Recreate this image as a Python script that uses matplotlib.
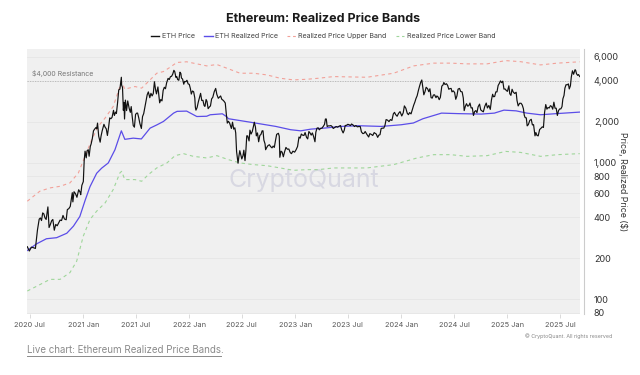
import matplotlib
matplotlib.use("Agg")
import matplotlib.pyplot as plt
from matplotlib.lines import Line2D
from matplotlib.ticker import FixedLocator, NullLocator
import pandas as pd

plt.rcParams['font.family'] = ['Inter', 'DejaVu Sans']

# ---------------- data ----------------
price_dates = [
"2020-06-22","2020-06-29","2020-07-06","2020-07-13","2020-07-20","2020-07-24","2020-07-27","2020-08-02","2020-08-06","2020-08-10",
"2020-08-14","2020-08-18","2020-08-22","2020-08-26","2020-09-01","2020-09-05","2020-09-09","2020-09-14","2020-09-18","2020-09-23",
"2020-09-28","2020-10-03","2020-10-09","2020-10-13","2020-10-18","2020-10-23","2020-10-28","2020-11-03","2020-11-07","2020-11-12",
"2020-11-17","2020-11-21","2020-11-24","2020-11-26","2020-11-30","2020-12-05","2020-12-10","2020-12-16","2020-12-21","2020-12-23",
"2020-12-27","2021-01-01","2021-01-04","2021-01-07","2021-01-11","2021-01-14","2021-01-18","2021-01-21","2021-01-25","2021-01-28",
"2021-02-01","2021-02-05","2021-02-09","2021-02-13","2021-02-16","2021-02-19","2021-02-23","2021-02-28","2021-03-03","2021-03-07",
"2021-03-13","2021-03-17","2021-03-21","2021-03-25","2021-03-29","2021-04-02","2021-04-06","2021-04-10","2021-04-15","2021-04-18",
"2021-04-22","2021-04-25","2021-04-29","2021-05-03","2021-05-07","2021-05-10","2021-05-12","2021-05-13","2021-05-16","2021-05-19",
"2021-05-21","2021-05-23","2021-05-26","2021-05-30","2021-06-03","2021-06-08","2021-06-12","2021-06-15","2021-06-18","2021-06-22",
"2021-06-26","2021-06-30","2021-07-04","2021-07-07","2021-07-11","2021-07-15","2021-07-20","2021-07-24","2021-07-28","2021-08-01",
"2021-08-05","2021-08-09","2021-08-13","2021-08-18","2021-08-22","2021-08-26","2021-08-30","2021-09-03","2021-09-07","2021-09-10",
"2021-09-15","2021-09-21","2021-09-25","2021-09-29","2021-10-03","2021-10-07","2021-10-11","2021-10-15","2021-10-20","2021-10-24",
"2021-10-28","2021-11-01","2021-11-05","2021-11-09","2021-11-12","2021-11-16","2021-11-19","2021-11-22","2021-11-26","2021-11-30",
"2021-12-03","2021-12-05","2021-12-09","2021-12-13","2021-12-16","2021-12-20","2021-12-24","2021-12-28","2022-01-01","2022-01-05",
"2022-01-08","2022-01-12","2022-01-16","2022-01-20","2022-01-22","2022-01-24","2022-01-28","2022-02-01","2022-02-05","2022-02-09",
"2022-02-13","2022-02-17","2022-02-21","2022-02-24","2022-02-28","2022-03-03","2022-03-07","2022-03-11","2022-03-15","2022-03-19",
"2022-03-23","2022-03-28","2022-04-02","2022-04-06","2022-04-11","2022-04-15","2022-04-19","2022-04-23","2022-04-27","2022-05-01",
"2022-05-05","2022-05-09","2022-05-12","2022-05-16","2022-05-20","2022-05-26","2022-05-30","2022-06-03","2022-06-07","2022-06-10",
"2022-06-13","2022-06-16","2022-06-18","2022-06-21","2022-06-24","2022-06-28","2022-07-01","2022-07-05","2022-07-08","2022-07-12",
"2022-07-15","2022-07-18","2022-07-21","2022-07-26","2022-07-29","2022-08-02","2022-08-06","2022-08-10","2022-08-13","2022-08-17",
"2022-08-20","2022-08-24","2022-08-28","2022-09-01","2022-09-05","2022-09-09","2022-09-12","2022-09-15","2022-09-19","2022-09-21",
"2022-09-25","2022-09-29","2022-10-04","2022-10-08","2022-10-13","2022-10-17","2022-10-21","2022-10-25","2022-10-29","2022-11-04",
"2022-11-07","2022-11-09","2022-11-13","2022-11-17","2022-11-21","2022-11-25","2022-11-30","2022-12-05","2022-12-10","2022-12-15",
"2022-12-19","2022-12-24","2022-12-30","2023-01-04","2023-01-09","2023-01-14","2023-01-18","2023-01-22","2023-01-26","2023-01-31",
"2023-02-04","2023-02-09","2023-02-13","2023-02-17","2023-02-21","2023-02-25","2023-03-01","2023-03-05","2023-03-10","2023-03-13",
"2023-03-17","2023-03-21","2023-03-25","2023-03-29","2023-04-03","2023-04-08","2023-04-12","2023-04-15","2023-04-18","2023-04-21",
"2023-04-25","2023-04-30","2023-05-04","2023-05-08","2023-05-12","2023-05-17","2023-05-22","2023-05-27","2023-06-01","2023-06-06",
"2023-06-10","2023-06-15","2023-06-19","2023-06-22","2023-06-27","2023-07-01","2023-07-05","2023-07-10","2023-07-14","2023-07-19",
"2023-07-24","2023-07-29","2023-08-03","2023-08-08","2023-08-13","2023-08-17","2023-08-22","2023-08-26","2023-08-30","2023-09-04",
"2023-09-11","2023-09-15","2023-09-20","2023-09-25","2023-09-30","2023-10-03","2023-10-07","2023-10-12","2023-10-16","2023-10-20",
"2023-10-24","2023-10-29","2023-11-02","2023-11-06","2023-11-10","2023-11-15","2023-11-20","2023-11-25","2023-11-30","2023-12-05",
"2023-12-09","2023-12-13","2023-12-18","2023-12-23","2023-12-28","2024-01-03","2024-01-08","2024-01-12","2024-01-17","2024-01-22",
"2024-01-26","2024-01-30","2024-02-04","2024-02-09","2024-02-13","2024-02-17","2024-02-21","2024-02-25","2024-02-29","2024-03-04",
"2024-03-08","2024-03-12","2024-03-16","2024-03-19","2024-03-23","2024-03-27","2024-04-01","2024-04-05","2024-04-09","2024-04-13",
"2024-04-17","2024-04-21","2024-04-25","2024-04-30","2024-05-03","2024-05-07","2024-05-11","2024-05-15","2024-05-20","2024-05-24",
"2024-05-27","2024-05-31","2024-06-05","2024-06-09","2024-06-13","2024-06-17","2024-06-21","2024-06-24","2024-06-28","2024-07-03",
"2024-07-07","2024-07-11","2024-07-15","2024-07-20","2024-07-24","2024-07-29","2024-08-02","2024-08-05","2024-08-09","2024-08-13",
"2024-08-17","2024-08-21","2024-08-25","2024-08-29","2024-09-02","2024-09-06","2024-09-10","2024-09-14","2024-09-18","2024-09-22",
"2024-09-27","2024-10-01","2024-10-05","2024-10-10","2024-10-15","2024-10-20","2024-10-24","2024-10-29","2024-11-03","2024-11-07",
"2024-11-11","2024-11-14","2024-11-18","2024-11-22","2024-11-26","2024-11-30","2024-12-04","2024-12-08","2024-12-12","2024-12-16",
"2024-12-20","2024-12-24","2024-12-28","2025-01-01","2025-01-06","2025-01-09","2025-01-13","2025-01-17","2025-01-21","2025-01-26",
"2025-01-31","2025-02-03","2025-02-07","2025-02-12","2025-02-17","2025-02-21","2025-02-25","2025-02-28","2025-03-03","2025-03-07",
"2025-03-10","2025-03-14","2025-03-19","2025-03-24","2025-03-28","2025-04-01","2025-04-06","2025-04-09","2025-04-13","2025-04-17",
"2025-04-22","2025-04-26","2025-05-01","2025-05-05","2025-05-09","2025-05-13","2025-05-17","2025-05-21","2025-05-25","2025-05-29",
"2025-06-02","2025-06-06","2025-06-10","2025-06-14","2025-06-18","2025-06-22","2025-06-26","2025-06-30","2025-07-04","2025-07-08",
"2025-07-11","2025-07-15","2025-07-18","2025-07-22","2025-07-26","2025-07-30","2025-08-02","2025-08-06","2025-08-09","2025-08-13",
"2025-08-17","2025-08-22","2025-08-24","2025-08-27","2025-08-31","2025-09-03","2025-09-07",
]
eth_price = [
243,226,241,239,236,280,322,387,395,378,
430,423,395,385,476,336,352,377,385,321,
354,346,366,381,378,412,388,383,455,462,
480,550,605,518,615,595,560,636,610,585,
685,730,1040,1220,1090,1230,1250,1120,1320,1380,
1510,1720,1770,1815,1780,1960,1570,1420,1570,1720,
1920,1830,1780,1590,1820,2140,2110,2160,2430,2230,
2360,2310,2760,3430,3480,3920,4250,3720,3580,2430,
2780,2100,2890,2420,2850,2510,2350,2590,2230,1880,
1830,2270,2320,2320,2140,1940,1790,2190,2300,2560,
2820,3160,3320,3010,3240,3100,3230,3940,3430,3210,
3610,2760,2920,2850,3400,3590,3500,3870,4170,4090,
4290,4320,4480,4780,4670,4240,4300,4090,4040,4630,
4530,4200,4120,3780,3960,3940,4040,3800,3770,3500,
3200,3370,3330,3000,2560,2440,2550,2790,3010,3240,
2870,2880,2640,2600,2920,2830,2500,2570,2620,2950,
3030,3330,3520,3180,2980,3040,3100,2930,2890,2830,
2750,2240,1960,2020,1960,1790,1990,1770,1810,1660,
1210,1070,995,1120,1230,1140,1070,1130,1240,1040,
1230,1580,1580,1450,1740,1630,1700,1850,1990,1830,
1580,1660,1430,1590,1620,1720,1720,1470,1380,1250,
1300,1340,1360,1320,1290,1330,1300,1460,1620,1650,
1570,1100,1220,1200,1110,1200,1300,1260,1265,1190,
1170,1220,1200,1250,1320,1550,1520,1630,1600,1590,
1670,1540,1500,1700,1660,1600,1660,1570,1430,1680,
1800,1810,1750,1790,1800,1860,1920,2100,2100,1850,
1870,1870,1880,1850,1790,1820,1850,1830,1860,1880,
1750,1660,1740,1880,1890,1920,1910,1880,1930,1900,
1850,1880,1840,1850,1850,1690,1640,1650,1700,1630,
1550,1640,1620,1590,1670,1650,1630,1540,1600,1610,
1790,1800,1800,1880,2080,2060,2010,2080,2050,2290,
2350,2260,2200,2310,2380,2210,2330,2620,2520,2310,
2260,2340,2290,2490,2650,2790,2970,3110,3380,3640,
3890,4060,3520,3160,3330,3590,3500,3330,3500,3010,
2990,3150,3160,3010,3100,3050,2910,3030,3660,3730,
3890,3760,3810,3700,3470,3510,3520,3320,3380,3290,
2930,3100,3480,3520,3340,3320,2990,2420,2600,2720,
2610,2630,2750,2530,2540,2230,2380,2420,2340,2580,
2700,2450,2410,2370,2600,2750,2530,2640,2470,2900,
3190,3060,3070,3320,3320,3700,3830,4000,3880,3980,
3480,3490,3400,3350,3680,3220,3130,3470,3310,3230,
3300,2870,2620,2740,2740,2660,2500,2240,2150,2140,
1870,1910,2050,2090,1900,1910,1580,1670,1590,1580,
1760,1790,1840,1820,2350,2680,2480,2550,2530,2630,
2600,2480,2790,2520,2520,2230,2420,2490,2490,2590,
2950,3130,3540,3750,3740,3800,3490,3680,4260,4740,
4470,4830,4780,4510,4390,4450,4300,
]

realized_dates = [
"2020-06-22","2020-07-24","2020-08-27","2020-10-01","2020-11-05","2020-11-28","2020-12-20","2021-01-07","2021-01-24","2021-02-16",
"2021-03-05","2021-03-28","2021-04-20","2021-05-07","2021-05-12","2021-05-24","2021-06-22","2021-07-20","2021-08-19","2021-09-11",
"2021-10-04","2021-11-08","2021-11-20","2021-12-23","2022-01-27","2022-03-02","2022-03-14","2022-04-25","2022-05-10","2022-05-16",
"2022-07-30","2022-10-26","2022-12-16","2023-01-20","2023-02-24","2023-04-10","2023-06-08","2023-08-06","2023-10-25","2024-01-01",
"2024-02-12","2024-03-16","2024-05-19","2024-07-15","2024-10-03","2024-11-17","2024-12-20","2025-01-31","2025-03-09","2025-04-25",
"2025-06-10","2025-09-07",
]
realized_price = [
228,255,278,283,305,344,405,530,670,840,
915,1000,1250,1600,1720,1490,1520,1500,1800,1900,
2015,2320,2390,2400,2190,2200,2256,2293,2180,2110,
1990,1853,1753,1720,1770,1800,1853,1875,1853,1906,
1963,2110,2320,2300,2282,2320,2440,2410,2320,2256,
2293,2360,
]

upper_dates = [
"2020-06-22","2020-08-04","2020-09-08","2020-10-13","2020-11-16","2020-12-15","2021-01-07","2021-01-30","2021-02-21","2021-03-17",
"2021-04-14","2021-05-07","2021-05-13","2021-05-24","2021-06-28","2021-07-21","2021-08-13","2021-09-11","2021-10-04","2021-10-27",
"2021-11-19","2021-12-23","2022-01-27","2022-03-02","2022-04-06","2022-05-10","2022-06-25","2022-08-10","2022-09-25","2022-11-10",
"2022-12-26","2023-02-11","2023-03-22","2023-05-13","2023-09-05","2023-12-06","2024-02-13","2024-04-22","2024-06-19","2024-08-15",
"2024-10-23","2024-12-26","2025-02-15","2025-04-25","2025-06-22","2025-09-07",
]
upper_band = [
524,620,656,674,714,845,1118,1481,1853,2135,
2595,3635,3950,3475,3635,3537,3950,4550,4680,5035,
5455,5520,5330,5150,5270,4955,4550,4550,4425,4180,
4065,4110,4180,4300,4250,4550,5150,5395,5395,5330,
5330,5630,5530,5237,5395,5520,
]

lower_dates = [
"2020-06-22","2020-08-04","2020-09-08","2020-10-13","2020-11-16","2020-12-09","2021-01-01","2021-01-24","2021-02-16","2021-03-17",
"2021-04-14","2021-05-07","2021-05-13","2021-05-24","2021-06-28","2021-07-21","2021-08-13","2021-09-11","2021-10-16","2021-11-13",
"2021-12-12","2022-01-15","2022-03-02","2022-04-06","2022-05-16","2022-06-25","2022-08-10","2022-09-25","2022-11-10","2022-12-26",
"2023-02-11","2023-03-22","2023-05-13","2023-09-05","2023-12-06","2024-02-25","2024-04-22","2024-06-19","2024-08-15","2024-10-23",
"2024-12-26","2025-02-15","2025-04-25","2025-06-22","2025-09-07",
]
lower_band = [
115,128,140,140,157,190,291,385,443,509,
638,845,868,755,755,734,821,919,1000,1131,
1170,1118,1088,1131,1057,1000,972,955,919,883,
893,893,919,919,972,1088,1150,1150,1118,1131,
1215,1195,1118,1150,1170,
]

xtick_dates = ["2020-07-01","2021-01-01","2021-07-01","2022-01-01","2022-07-01","2023-01-01",
               "2023-07-01","2024-01-01","2024-07-01","2025-01-01","2025-07-01"]
xtick_labels = ["2020 Jul","2021 Jan","2021 Jul","2022 Jan","2022 Jul","2023 Jan",
                "2023 Jul","2024 Jan","2024 Jul","2025 Jan","2025 Jul"]
ytick_values = [80, 100, 200, 400, 600, 800, 1000, 2000, 4000, 6000]
ytick_labels = ["80", "100", "200", "400", "600", "800", "1,000", "2,000", "4,000", "6,000"]
resistance_level = 4000

# ---------------- figure ----------------
fig = plt.figure(figsize=(6.4, 3.75), dpi=100)
ax = fig.add_axes([27/640, 1 - 314/375, 553/640, 265/375])
ax.set_facecolor('#f0f0f0')

ax.plot(pd.to_datetime(upper_dates), upper_band, color='#f2a199', lw=0.8, dashes=(3, 3), zorder=2)
ax.plot(pd.to_datetime(lower_dates), lower_band, color='#9fd69a', lw=0.8, dashes=(3, 3), zorder=2)
ax.axhline(resistance_level, color='#b5b5b5', lw=0.6, dashes=(1.5, 1.5), zorder=1)
ax.plot(pd.to_datetime(realized_dates), realized_price, color='#5b4de8', lw=0.9, zorder=3)
ax.plot(pd.to_datetime(price_dates), eth_price, color='#111111', lw=0.85, zorder=4)

ax.set_yscale('log')
ax.set_ylim(78, 6850)
ax.set_xlim(pd.Timestamp("2020-06-21"), pd.Timestamp("2025-09-08"))

ax.yaxis.set_major_locator(FixedLocator(ytick_values))
ax.yaxis.set_minor_locator(NullLocator())
ax.set_yticklabels(ytick_labels)
ax.yaxis.tick_right()
ax.tick_params(axis='y', length=0, pad=7, labelsize=6.5, labelcolor='#333333')

ax.set_xticks(pd.to_datetime(xtick_dates))
ax.set_xticklabels(xtick_labels)
ax.tick_params(axis='x', length=3, width=0.5, color='#cccccc', labelsize=5.3, labelcolor='#555555', pad=3)

ax.grid(axis='y', color='#e6e6e6', lw=0.6)
ax.set_axisbelow(True)
for s in ['top', 'left', 'bottom']:
    ax.spines[s].set_visible(False)
ax.spines['right'].set_color('#cccccc')
ax.spines['right'].set_linewidth(0.8)
ax.spines['right'].set_position(('outward', 3))

ax.text(0.009, 0.893, "$4,000 Resistance", transform=ax.transAxes, fontsize=5,
        color='#777777', va='bottom', ha='left')

ax.text(0.5, 0.505, "CryptoQuant", transform=ax.transAxes, fontsize=18,
        color='#d8d8e2', ha='center', va='center', zorder=1)

ax.yaxis.set_label_position('right')
ax.set_ylabel("Price, Realized Price ($)", rotation=270, fontsize=6.3,
              color='#333333', labelpad=6)

# title and legend
fig.text(323/640, 1 - 19/375, "Ethereum: Realized Price Bands", ha='center', va='center',
         fontsize=9, fontweight='bold', color='#1a1a1a')
handles = [Line2D([], [], color='#111111', lw=1),
           Line2D([], [], color='#5b4de8', lw=1),
           Line2D([], [], color='#f2a199', lw=0.8, dashes=(2.5, 2.5)),
           Line2D([], [], color='#9fd69a', lw=0.8, dashes=(2.5, 2.5))]
labels = ["ETH Price", "ETH Realized Price", "Realized Price Upper Band", "Realized Price Lower Band"]
fig.legend(handles, labels, loc='center', bbox_to_anchor=(323/640, 1 - 36/375), ncol=4,
           frameon=False, fontsize=5.1, handlelength=1.2, handletextpad=0.35,
           columnspacing=1.3, labelcolor='#444444')

fig.text(612/640, 1 - 336/375, "© CryptoQuant. All rights reserved", ha='right', va='center',
         fontsize=3.8, color='#888888')

fig.text(27/640, 1 - 350/375, "Live chart: Ethereum Realized Price Bands.", ha='left', va='center',
         fontsize=7, color='#8a8a8a')
fig.add_artist(Line2D([27/640, 221/640], [1 - 356/375, 1 - 356/375], color='#8a8a8a', lw=0.7,
                      transform=fig.transFigure))

fig.savefig("out.png", dpi=100)
